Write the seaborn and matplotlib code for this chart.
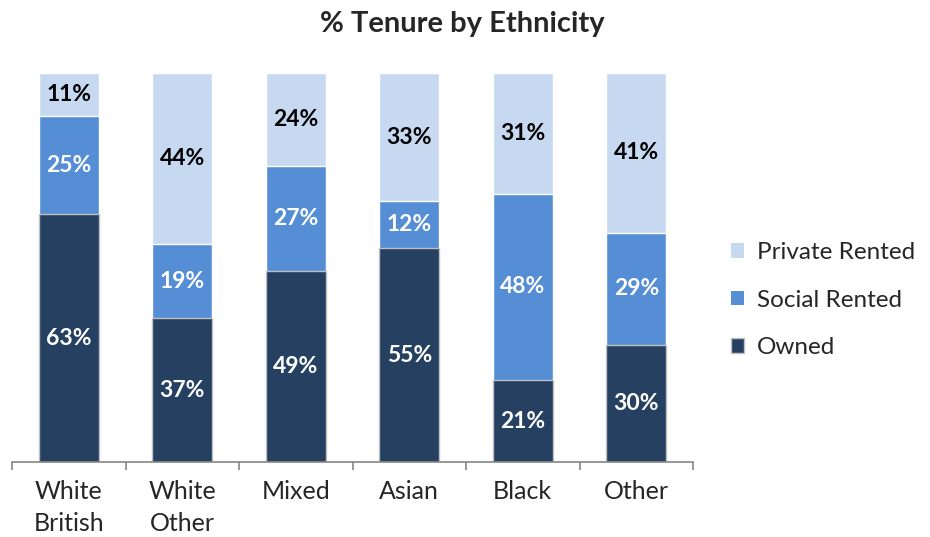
import matplotlib
matplotlib.use("Agg")
import matplotlib.pyplot as plt
import seaborn as sns
import pandas as pd
import numpy as np
from matplotlib.patches import Patch

categories = ["White\nBritish", "White\nOther", "Mixed", "Asian", "Black", "Other"]
owned = [63, 37, 49, 55, 21, 30]
social = [25, 19, 27, 12, 48, 29]
private = [11, 44, 24, 33, 31, 41]

c_owned = "#264061"
c_social = "#558ed5"
c_private = "#c6d9f1"

sns.set_theme(style="white")
plt.rcParams["font.family"] = ["Lato", "DejaVu Sans"]

df = pd.DataFrame({"cat": categories, "owned": owned, "social": social, "private": private})
tot = df["owned"] + df["social"] + df["private"]
# 100% stacked: normalise each bar to its total
df["n_owned"] = df["owned"] / tot * 100
df["n_os"] = (df["owned"] + df["social"]) / tot * 100
df["n_all"] = tot / tot * 100

fig = plt.figure(figsize=(9.3, 5.37), dpi=100)
ax = fig.add_axes([0.0129, 0.1397, 0.7323, 0.7243])

w = 0.53
sns.barplot(data=df, x="cat", y="n_all", color=c_private, saturation=1, width=w,
            edgecolor="white", linewidth=1, ax=ax)
sns.barplot(data=df, x="cat", y="n_os", color=c_social, saturation=1, width=w,
            edgecolor="white", linewidth=1, ax=ax)
sns.barplot(data=df, x="cat", y="n_owned", color=c_owned, saturation=1, width=w,
            edgecolor="#c0c0c0", linewidth=1, ax=ax)

fs = 16.5
for i in range(len(categories)):
    a = df["n_owned"][i]
    b = df["n_os"][i]
    c = df["n_all"][i]
    ax.text(i, a / 2, f"{owned[i]}%", ha="center", va="center", color="white", fontsize=fs, fontweight="bold")
    ax.text(i, (a + b) / 2, f"{social[i]}%", ha="center", va="center", color="white", fontsize=fs, fontweight="bold")
    ax.text(i, (b + c) / 2, f"{private[i]}%", ha="center", va="center", color="black", fontsize=fs, fontweight="bold")

ax.set_ylim(0, 100)
ax.set_xlim(-0.5, len(categories) - 0.5)
ax.set_xlabel("")
ax.set_ylabel("")
ax.set_yticks([])
for sp in ["left", "right", "top"]:
    ax.spines[sp].set_visible(False)
ax.spines["bottom"].set_color("#868686")
ax.spines["bottom"].set_linewidth(1.2)

ax.set_xticks(range(len(categories)))
ax.set_xticklabels(categories, fontsize=18, linespacing=1.45)
ax.tick_params(axis="x", length=0, pad=13)
ax.set_xticks(np.arange(-0.5, len(categories), 1), minor=True)
ax.tick_params(axis="x", which="minor", length=6, width=1.2, color="#868686", direction="out")
ax.tick_params(axis="x", which="minor", bottom=True)

fig.text(0.497, 0.955, "% Tenure by Ethnicity", ha="center", va="center", fontsize=21, fontweight="bold")

handles = [Patch(facecolor=c_private, edgecolor="none", label="Private Rented"),
           Patch(facecolor=c_social, edgecolor="none", label="Social Rented"),
           Patch(facecolor=c_owned, edgecolor="#c0c0c0", label="Owned")]
fig.legend(handles=handles, loc="center left", bbox_to_anchor=(0.786, 0.441), frameon=False,
           fontsize=17.5, handlelength=0.55, handleheight=0.55, handletextpad=0.5, labelspacing=1.1,
           borderpad=0, borderaxespad=0)

fig.savefig("out.png", dpi=100)
